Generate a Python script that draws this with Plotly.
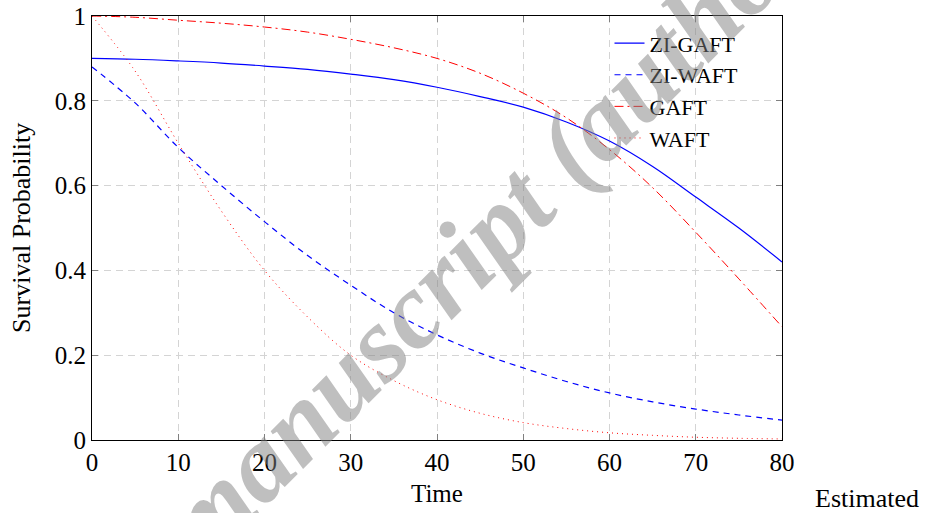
import plotly.graph_objects as go

time = [0, 5, 10, 15, 20, 25, 30, 35, 40, 45, 50, 55, 60, 65, 70, 75, 80]
zi_gaft = [0.900, 0.898, 0.894, 0.889, 0.882, 0.874, 0.863, 0.850, 0.832, 0.810, 0.785, 0.750, 0.705, 0.645, 0.573, 0.500, 0.420]
zi_waft = [0.880, 0.795, 0.690, 0.600, 0.515, 0.435, 0.365, 0.300, 0.248, 0.205, 0.170, 0.138, 0.111, 0.090, 0.073, 0.059, 0.047]
gaft = [1.000, 0.997, 0.990, 0.983, 0.974, 0.962, 0.945, 0.925, 0.900, 0.865, 0.818, 0.760, 0.685, 0.595, 0.490, 0.380, 0.267]
waft = [1.000, 0.870, 0.700, 0.540, 0.400, 0.290, 0.200, 0.140, 0.095, 0.063, 0.041, 0.027, 0.017, 0.011, 0.0065, 0.004, 0.0025]

x_ticks = [0, 10, 20, 30, 40, 50, 60, 70, 80]
y_ticks = [0, 0.2, 0.4, 0.6, 0.8, 1.0]
y_ticktext = ["0", "0.2", "0.4", "0.6", "0.8", "1"]

FONT = "Liberation Serif, Times New Roman, serif"

fig = go.Figure()
fig.add_trace(go.Scatter(x=time, y=zi_gaft, mode="lines", name="ZI-GAFT",
                         line=dict(color="#0000ff", width=1.2, shape="spline")))
fig.add_trace(go.Scatter(x=time, y=zi_waft, mode="lines", name="ZI-WAFT",
                         line=dict(color="#0000ff", width=1.2, dash="6px,5px", shape="spline")))
fig.add_trace(go.Scatter(x=time, y=gaft, mode="lines", name="GAFT",
                         line=dict(color="#ff0000", width=1.0, dash="9px,4px,2px,4px", shape="spline")))
fig.add_trace(go.Scatter(x=time, y=waft, mode="lines", name="WAFT",
                         line=dict(color="#ff0000", width=1.0, dash="1px,4px", shape="spline")))

axis_common = dict(
    showline=True, linecolor="black", linewidth=1, mirror="ticks",
    ticks="inside", ticklen=6, tickcolor="#808080", tickwidth=1,
    showgrid=True, gridcolor="#d4d4d4", gridwidth=1, griddash="7px,5px",
    zeroline=False, automargin=False, ticklabeloverflow="allow",
    tickfont=dict(family=FONT, size=25, color="black"),
)

fig.update_xaxes(range=[0, 80], tickvals=x_ticks, **axis_common)
fig.update_yaxes(range=[0, 1], tickvals=y_ticks, ticktext=y_ticktext, **axis_common)

fig.add_annotation(text="Time", xref="paper", yref="paper", x=0.5, y=-0.125,
                   xanchor="center", yanchor="middle", showarrow=False,
                   font=dict(family=FONT, size=25, color="black"))
fig.add_annotation(text="Survival Probability", xref="paper", yref="paper", x=-0.103, y=0.5,
                   xanchor="center", yanchor="middle", showarrow=False, textangle=-90,
                   font=dict(family=FONT, size=26, color="black"))
fig.add_annotation(text="Estimated", xref="paper", yref="paper", x=1.045, y=-0.137,
                   xanchor="left", yanchor="middle", showarrow=False,
                   font=dict(family=FONT, size=26, color="black"))

fig.add_annotation(text="<b><i>Accepted manuscript (author version)</i></b>", xref="paper", yref="paper",
                   x=0.545, y=0.44, xanchor="center", yanchor="middle", showarrow=False,
                   textangle=-45, font=dict(family=FONT, size=108, color="rgba(128,128,128,0.5)"))

fig.update_layout(
    width=935, height=513,
    margin=dict(l=92, r=153, t=16, b=73),
    paper_bgcolor="white", plot_bgcolor="white",
    showlegend=True,
    legend=dict(x=0.75, y=0.985, xanchor="left", yanchor="top",
                bgcolor="rgba(0,0,0,0)", borderwidth=0,
                font=dict(family=FONT, size=22, color="black"),
                tracegroupgap=0, itemwidth=30),
)

fig.write_html("out.html", config={"displayModeBar": False},
               post_script="document.body.style.margin='0';document.body.style.padding='0';")
